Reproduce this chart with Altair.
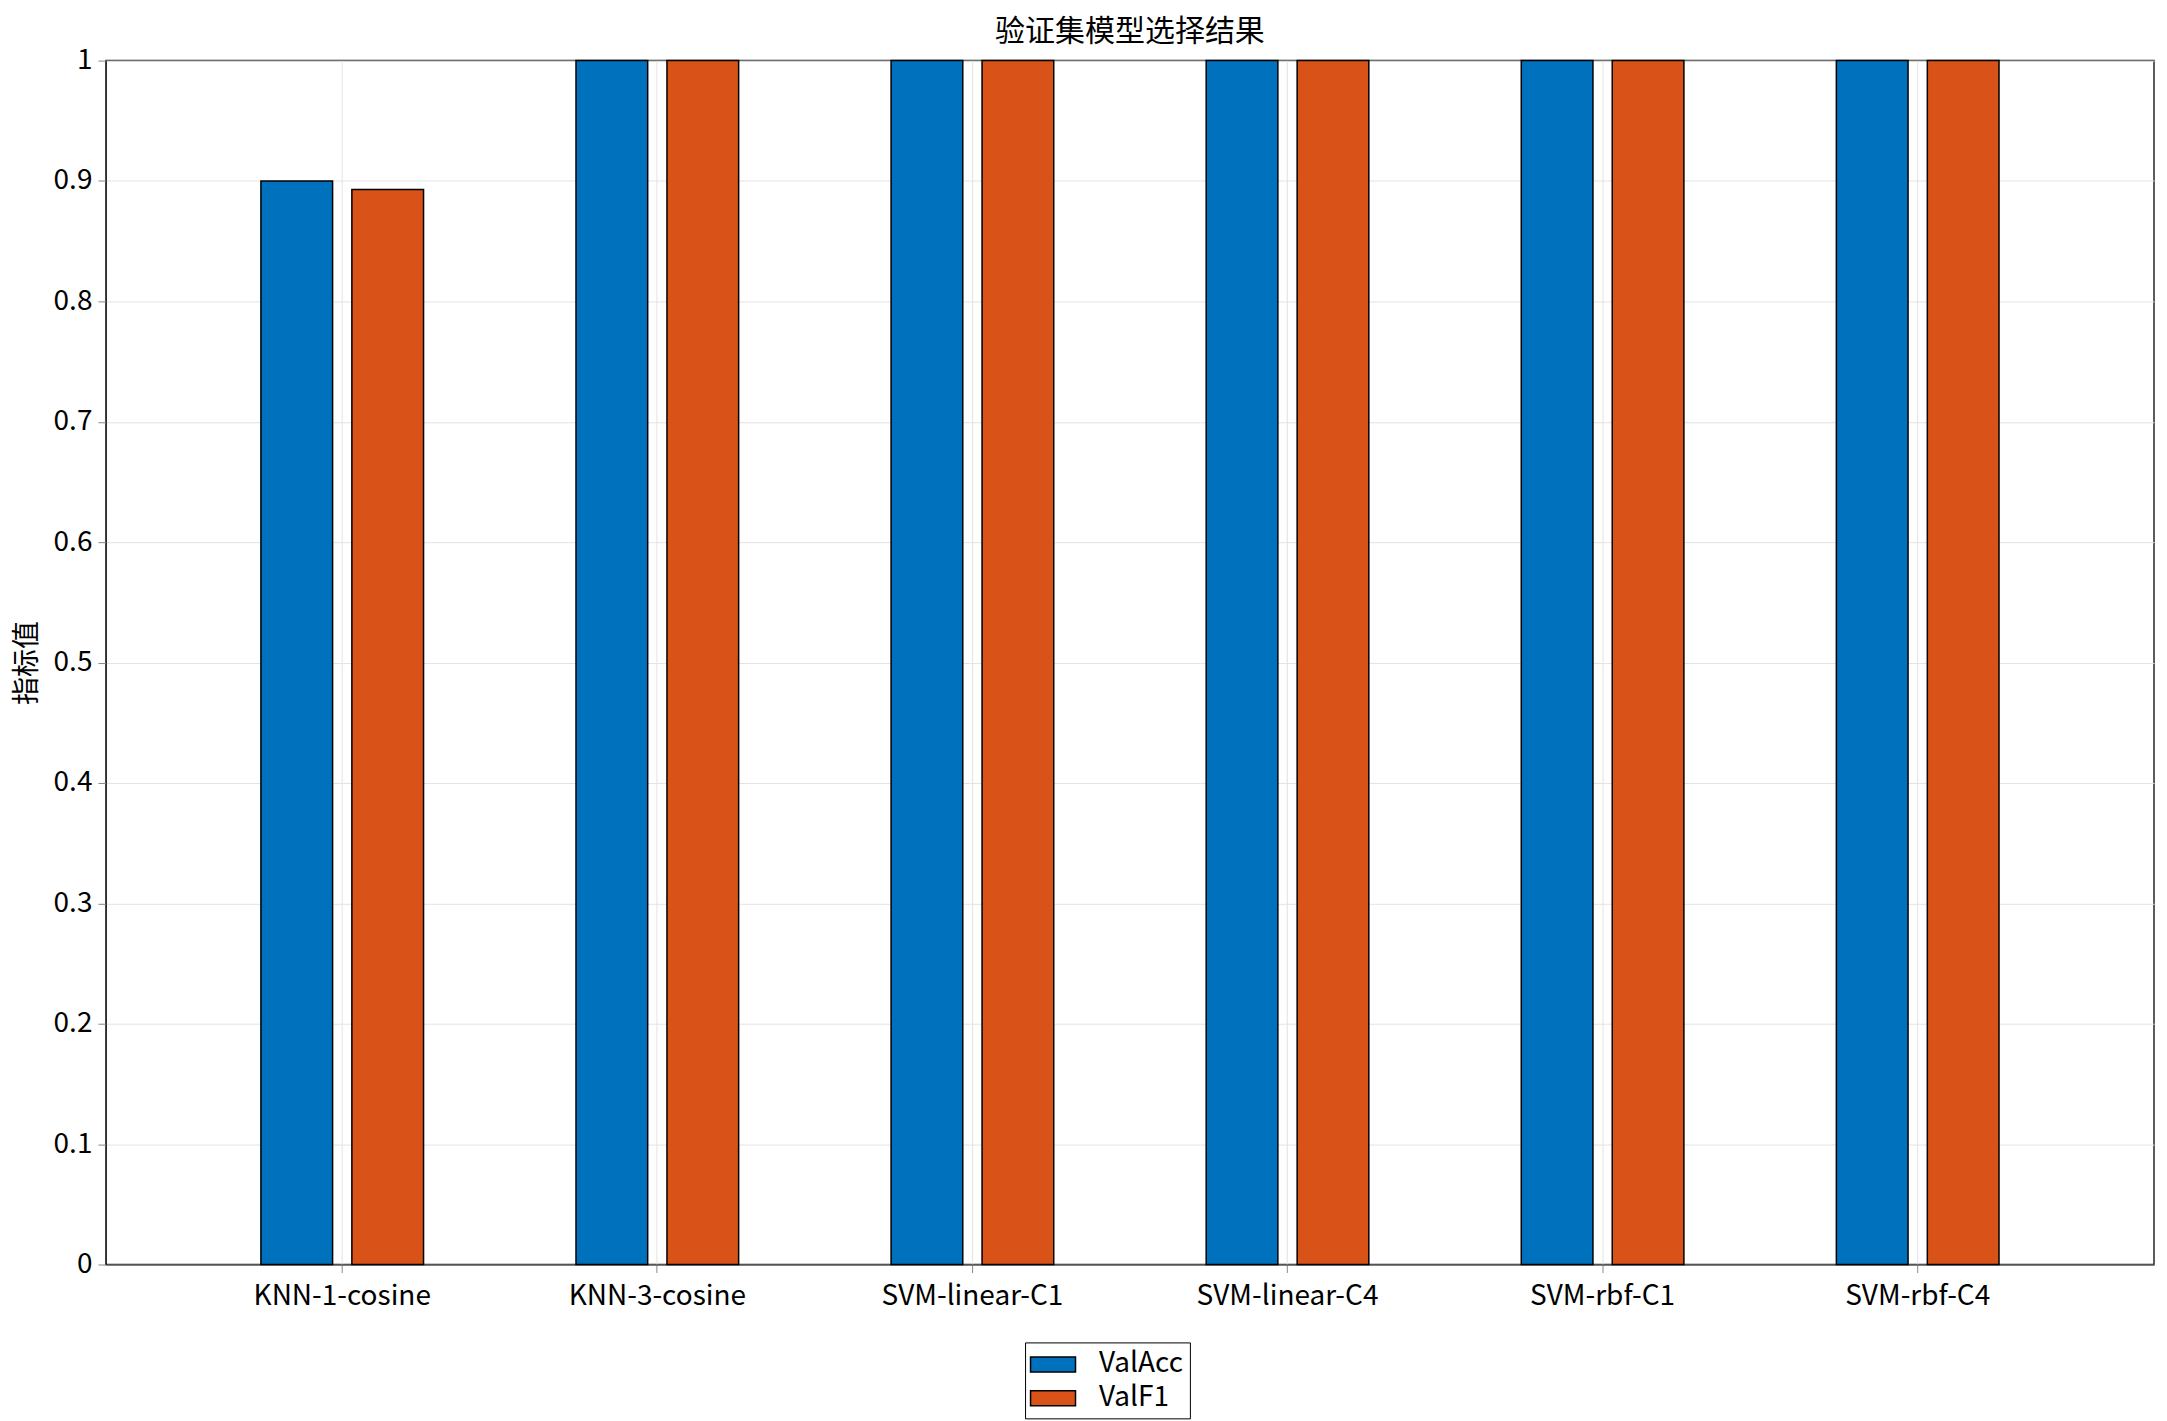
import pandas as pd
import altair as alt

models = ["KNN-1-cosine", "KNN-3-cosine", "SVM-linear-C1", "SVM-linear-C4", "SVM-rbf-C1", "SVM-rbf-C4"]
val_acc = [0.90, 1.0, 1.0, 1.0, 1.0, 1.0]
val_f1 = [0.893, 1.0, 1.0, 1.0, 1.0, 1.0]
metrics = ["ValAcc", "ValF1"]
colors = ["#0072BD", "#D95319"]

rows = []
for m, a, f in zip(models, val_acc, val_f1):
    rows.append({"model": m, "metric": "ValAcc", "value": a})
    rows.append({"model": m, "metric": "ValF1", "value": f})
df = pd.DataFrame(rows)

font = "Noto Sans CJK SC"
W = 2050
H = 1205

chart = alt.Chart(df).mark_bar(stroke="black", strokeWidth=1.5).encode(
    x=alt.X("model:N", sort=models, title=None,
            scale=alt.Scale(paddingInner=0, paddingOuter=0.25),
            axis=alt.Axis(labelAngle=0, grid=True, bandPosition=0.5, gridColor="#e3e3e3",
                          labelFontSize=28, labelPadding=10, labelLimit=0, tickSize=8,
                          domainColor="#262626")),
    xOffset=alt.XOffset("metric:N", scale=alt.Scale(paddingInner=0.212, paddingOuter=0.838)),
    y=alt.Y("value:Q", title="指标值",
            scale=alt.Scale(domain=[0, 1], nice=False),
            axis=alt.Axis(values=[i / 10 for i in range(11)], format="~g", gridColor="#e3e3e3",
                          labelFontSize=28, titleFontSize=28, titleFontWeight="normal",
                          tickSize=8, domainColor="#262626", labelPadding=6, titlePadding=12)),
    color=alt.Color("metric:N", title=None,
                    scale=alt.Scale(domain=metrics, range=colors),
                    legend=alt.Legend(orient="none", legendX=W / 2 - 105, legendY=H + 78,
                                      direction="vertical",
                                      symbolType="M-1.5,-0.5H1.5V0.5H-1.5Z", symbolSize=900,
                                      symbolStrokeColor="black", symbolStrokeWidth=1.5,
                                      symbolOffset=6, labelOffset=30,
                                      labelFontSize=28, strokeColor="black", padding=6,
                                      rowPadding=4)),
).properties(
    width=W,
    height=H,
    padding={"left": 5, "top": 8, "right": 5, "bottom": 5},
    title=alt.TitleParams("验证集模型选择结果", fontSize=30, fontWeight="normal", offset=0),
).configure(
    font=font
).configure_view(
    stroke="#262626", strokeWidth=1.5
)

chart.save("out.html", embed_options={"renderer": "svg", "actions": False})
